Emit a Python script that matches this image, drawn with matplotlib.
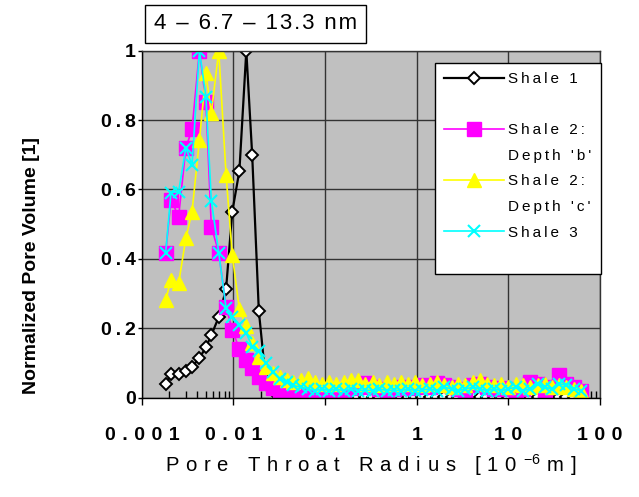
import matplotlib
matplotlib.use("Agg")
import matplotlib.pyplot as plt
from matplotlib.lines import Line2D

# pore throat radius bins [1e-6 m], common to all samples
radius = [0.00182, 0.00208, 0.00252, 0.00302, 0.00353, 0.00425, 0.005, 0.00573, 0.0069, 0.0083,
          0.0097, 0.0116, 0.0138, 0.016, 0.0189, 0.0225, 0.027, 0.032, 0.038, 0.045,
          0.054, 0.065, 0.078, 0.093, 0.11, 0.13, 0.16, 0.19, 0.23, 0.27,
          0.33, 0.39, 0.47, 0.56, 0.67, 0.8, 0.96, 1.15, 1.4, 1.65,
          2.0, 2.4, 2.8, 3.4, 4.1, 4.9, 5.8, 7.0, 8.4, 10,
          12, 14.5, 17, 21, 25, 30, 36, 43, 52, 62]

shale1 = [0.039, 0.067, 0.067, 0.077, 0.089, 0.114, 0.145, 0.18, 0.232, 0.313,
          0.536, 0.654, 1.0, 0.699, 0.25, 0.05, 0.02, 0.01, 0.006, 0.004,
          0.003, 0.003, 0.002, 0.003, 0.002, 0.002, 0.003, 0.002, 0.002, 0.003,
          0.002, 0.002, 0.003, 0.002, 0.002, 0.002, 0.003, 0.002, 0.002, 0.003,
          0.002, 0.002, 0.002, 0.003, 0.002, 0.002, 0.002, 0.003, 0.002, 0.002,
          0.002, 0.002, 0.003, 0.002, 0.002, 0.002, 0.002, 0.003, 0.002, 0.002]

shale2b = [0.418, 0.57, 0.522, 0.72, 0.773, 1.0, 0.851, 0.493, 0.418, 0.262,
           0.195, 0.14, 0.109, 0.085, 0.06, 0.041, 0.027, 0.02, 0.015, 0.012,
           0.01, 0.01, 0.012, 0.01, 0.012, 0.015, 0.02, 0.028, 0.03, 0.041,
           0.03, 0.025, 0.02, 0.025, 0.03, 0.028, 0.03, 0.035, 0.03, 0.042,
           0.035, 0.03, 0.025, 0.02, 0.035, 0.04, 0.03, 0.025, 0.028, 0.025,
           0.02, 0.025, 0.045, 0.04, 0.02, 0.03, 0.065, 0.04, 0.03, 0.02]

shale2c = [0.282, 0.339, 0.33, 0.459, 0.536, 0.743, 0.935, 0.82, 1.0, 0.642,
           0.411, 0.255, 0.205, 0.157, 0.118, 0.089, 0.07, 0.06, 0.05, 0.046,
           0.05, 0.056, 0.045, 0.04, 0.045, 0.04, 0.045, 0.052, 0.052, 0.04,
           0.045, 0.035, 0.045, 0.04, 0.045, 0.04, 0.045, 0.035, 0.04, 0.045,
           0.035, 0.03, 0.04, 0.035, 0.045, 0.05, 0.04, 0.035, 0.04, 0.03,
           0.04, 0.035, 0.03, 0.035, 0.04, 0.03, 0.035, 0.03, 0.025, 0.02]

shale3 = [0.418, 0.591, 0.594, 0.72, 0.671, 1.0, 0.867, 0.568, 0.418, 0.258,
          0.233, 0.21, 0.186, 0.147, 0.133, 0.1, 0.075, 0.055, 0.045, 0.035,
          0.03, 0.025, 0.02, 0.025, 0.02, 0.025, 0.02, 0.025, 0.02, 0.022,
          0.02, 0.025, 0.02, 0.022, 0.02, 0.025, 0.02, 0.022, 0.025, 0.02,
          0.03, 0.025, 0.02, 0.025, 0.03, 0.025, 0.02, 0.025, 0.02, 0.025,
          0.03, 0.02, 0.025, 0.04, 0.03, 0.025, 0.04, 0.035, 0.025, 0.02]

x_ticks = [0.001, 0.01, 0.1, 1, 10, 100]
x_tick_labels = ['0.001', '0.01', '0.1', '1', '10', '100']
y_ticks = [0, 0.2, 0.4, 0.6, 0.8, 1]
y_tick_labels = ['0', '0.2', '0.4', '0.6', '0.8', '1']
title = '4 – 6.7 – 13.3 nm'


def spread(s, sep='\u2009'):
    # excel-style letter spacing
    return sep.join(s)


plt.rcParams['font.family'] = ['Liberation Sans', 'DejaVu Sans']
plt.rcParams['mathtext.default'] = 'regular'

fig = plt.figure(figsize=(6.39, 4.97), dpi=100)
ax = fig.add_axes([0.222, 0.2, 0.717, 0.698])
ax.set_facecolor('#c0c0c0')

l1, = ax.plot(radius, shale1, color='black', lw=1.6, marker='D', ms=6.5,
              mfc='white', mec='black', mew=1.4)
l2, = ax.plot(radius, shale2b, color='#ff00ff', lw=1.2, marker='s', ms=10,
              mfc='#ff00ff', mec='#ff00ff')
l3, = ax.plot(radius, shale2c, color='#ffff00', lw=1.2, marker='^', ms=10,
              mfc='#ffff00', mec='#ffff00')
l4, = ax.plot(radius, shale3, color='#00ffff', lw=1.2, marker='x', ms=9,
              mew=1.5)

ax.set_xscale('log')
ax.set_xlim(0.001, 100)
ax.set_ylim(0, 1)
ax.grid(True, which='major', color='#333333', lw=1)
ax.set_axisbelow(True)
for sp in ax.spines.values():
    sp.set_color('#333333')
    sp.set_linewidth(1)
ax.spines['left'].set_color('black')
ax.spines['bottom'].set_color('black')

ax.set_xticks(x_ticks, labels=[spread(t, '\u2004') for t in x_tick_labels])
ax.set_yticks(y_ticks, labels=[spread(t) for t in y_tick_labels])
ax.tick_params(axis='both', which='major', labelsize=14, direction='out', width=1)
ax.tick_params(axis='x', which='major', length=5, pad=16)
ax.tick_params(axis='y', which='major', length=3, pad=1.5)
ax.tick_params(axis='x', which='minor', direction='in', length=5, width=1)
ax.tick_params(axis='y', which='minor', left=False)
for lab in ax.get_xticklabels() + ax.get_yticklabels():
    lab.set_fontweight('bold')

ax.set_ylabel('Normalized Pore Volume [1]', fontsize=14, fontweight='bold')
ax.yaxis.set_label_coords(-0.222, 0.38)
ax.set_xlabel(spread('Pore Throat Radius [10', '\u2004') + '\u2004$^{-6}$\u2004' + spread('m]', '\u2004'),
              fontsize=14.6, labelpad=6)

ax.text(0.249, 1.077, spread(title, '\u200a'), transform=ax.transAxes, ha='center', va='center',
        fontsize=16, bbox=dict(boxstyle='square,pad=0.4', fc='white', ec='black', lw=1))

blank = Line2D([], [], color='none')
handles = [l1, blank, l2, blank, l3, blank, l4, blank]
labels = ['Shale 1', ' ', 'Shale 2:', "Depth 'b'", 'Shale 2:', "Depth 'c'", 'Shale 3', ' ']
leg = ax.legend(handles, [spread(t) for t in labels], loc='upper left',
                bbox_to_anchor=(0.64, 0.965), fontsize=11, numpoints=1,
                handlelength=3.9, handletextpad=0.3, labelspacing=0.76,
                borderpad=0.6, borderaxespad=0, fancybox=False, framealpha=1,
                edgecolor='black')
leg.get_frame().set_linewidth(1)

fig.savefig('out.png', dpi=100)
